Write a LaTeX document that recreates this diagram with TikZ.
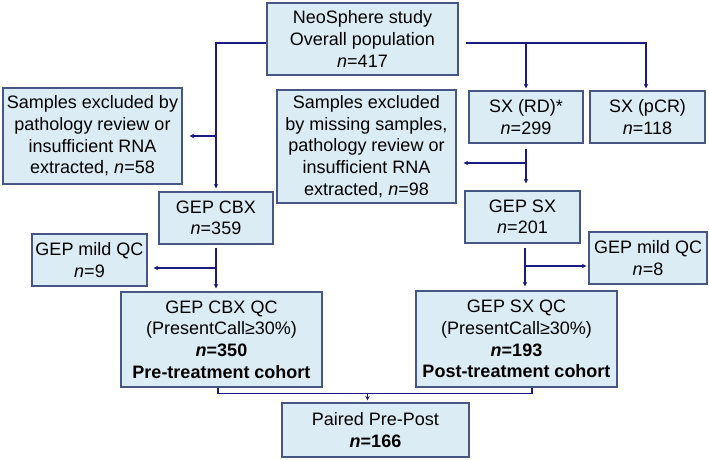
\documentclass[tikz,border=0pt]{standalone}
\usepackage{fontspec}
\setmainfont{Liberation Sans}
\usetikzlibrary{arrows.meta,shadows}
\definecolor{boxfill}{RGB}{220,236,245}
\definecolor{boxline}{RGB}{72,86,132}
\definecolor{linkcol}{RGB}{26,26,128}
\newcommand{\nn}{\textit{n}}
\begin{document}
\begin{tikzpicture}[x=1pt,y=-1pt,
    box/.style={draw=boxline,fill=boxfill,line width=1.2pt,align=center,
      inner sep=0pt,font=\fontsize{18}{21.6}\selectfont,
      drop shadow={shadow xshift=1.2pt,shadow yshift=-1.2pt,opacity=0.35,fill=black}},
    link/.style={draw=linkcol,line width=1.6pt},
    arr/.style={link,-{Stealth[length=4.5pt,width=4.5pt]}}]
  \useasboundingbox (0,0) rectangle (709,460);
  \node[box,minimum width=191,minimum height=72] (study) at (362.5,39)
    {NeoSphere study\\Overall population\\\nn=417};
  \node[box,minimum width=179,minimum height=96] (excl1) at (92.5,136)
    {Samples excluded by\\pathology review or\\insufficient RNA\\extracted, \nn=58};
  \node[box,minimum width=179,minimum height=113] (excl2) at (366.5,146.5)
    {Samples excluded\\by missing samples,\\pathology review or\\insufficient RNA\\extracted, \nn=98};
  \node[box,minimum width=114,minimum height=52] (sxrd) at (526,117)
    {SX (RD)*\\\nn=299};
  \node[box,minimum width=115,minimum height=52] (sxpcr) at (647.5,117)
    {SX (pCR)\\\nn=118};
  \node[box,minimum width=114,minimum height=52] (cbx) at (216,218)
    {GEP CBX\\\nn=359};
  \node[box,minimum width=115,minimum height=52] (sx) at (522.5,217)
    {GEP SX\\\nn=201};
  \node[box,minimum width=115,minimum height=52] (mildcbx) at (89.5,260)
    {GEP mild QC\\\nn=9};
  \node[box,minimum width=118,minimum height=52] (mildsx) at (648,258)
    {GEP mild QC\\\nn=8};
  \node[box,minimum width=201,minimum height=95] (cbxqc) at (221.5,339.5)
    {GEP CBX QC\\(PresentCall≥30\%)\\\textbf{\textit{n}=350}\\\textbf{Pre-treatment cohort}};
  \node[box,minimum width=201,minimum height=96] (sxqc) at (516.5,339)
    {GEP SX QC\\(PresentCall≥30\%)\\\textbf{\textit{n}=193}\\\textbf{Post-treatment cohort}};
  \node[box,minimum width=187,minimum height=54] (paired) at (375.5,430)
    {Paired Pre-Post\\\textbf{\textit{n}=166}};
  % helper points
  \coordinate (ltrunk) at ([yshift=-4pt]study.west);
  \coordinate (rtrunk) at ([yshift=-4pt]study.east);
  \coordinate (pcrtop) at ([xshift=-1.5pt]sxpcr.north);
  \coordinate (sxbot) at ([xshift=2.5pt]sx.south);
  \coordinate (sxqcbot) at ([xshift=15.5pt]sxqc.south);
  \coordinate (cbxqcbot) at ([xshift=-3.5pt]cbxqc.south);
  \coordinate (pairtop) at ([xshift=-8pt]paired.north);
  % pre-treatment branch
  \draw[arr,shorten >=3pt] (ltrunk) -| (cbx.north);
  \draw[arr,shorten >=7pt] (cbx.north |- excl1.east) -- (excl1.east);
  \draw[arr,shorten <=3pt,shorten >=3pt] (cbx.south) -- (cbx.south |- cbxqc.north);
  \coordinate (c1) at ([yshift=-8pt]cbx.south |- mildcbx.east);
  \draw[arr,shorten >=6pt] (c1) -- (c1 -| mildcbx.east);
  % post-treatment branch
  \draw[arr,shorten <=7pt,shorten >=2pt] (rtrunk) -| (pcrtop);
  \draw[arr,shorten >=2pt] (rtrunk -| sxrd.north) -- (sxrd.north);
  \draw[arr,shorten <=5pt,shorten >=7pt] (sxrd.south) -- (sxrd.south |- sx.north);
  \coordinate (c2) at ([yshift=-16.5pt]sxrd.south |- excl2.east);
  \draw[arr,shorten >=7pt] (c2) -- (c2 -| excl2.east);
  \draw[arr,shorten <=4pt,shorten >=4pt] (sxbot) -- (sxbot |- sxqc.north);
  \coordinate (c3) at ([yshift=-8pt]sxbot |- mildsx.west);
  \draw[arr,shorten >=2pt] (c3) -- (c3 -| mildsx.west);
  % paired cohort
  \coordinate (c5) at ([yshift=-6pt]cbxqcbot);
  \draw[link] (cbxqcbot) -- (c5) -| (sxqcbot);
  \draw[arr,shorten >=2pt] (c5 -| pairtop) -- (pairtop);
\end{tikzpicture}
\end{document}
